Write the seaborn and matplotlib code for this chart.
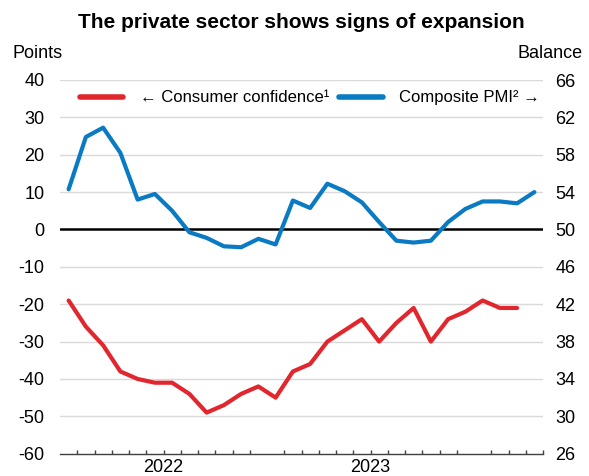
import numpy as np
import pandas as pd
import matplotlib
matplotlib.use("Agg")
import matplotlib.pyplot as plt
import seaborn as sns
from matplotlib.lines import Line2D
from matplotlib.ticker import FixedLocator
import matplotlib.transforms as mtransforms

# ---- data (monthly, Jan 2022 onwards) ----
pmi_months = pd.date_range("2022-01-01", periods=28, freq="MS").strftime("%Y-%m").tolist()
composite_pmi = [54.3, 59.9, 60.9, 58.2, 53.2, 53.8, 52.0, 49.7, 49.1, 48.2, 48.1, 49.0,
                 48.4, 53.1, 52.3, 54.9, 54.1, 52.9, 50.8, 48.8, 48.6, 48.8, 50.8, 52.2,
                 53.0, 53.0, 52.8, 54.0]
cc_months = pmi_months[:27]
consumer_confidence = [-19, -26, -31, -38, -40, -41, -41, -44, -49, -47, -44, -42,
                       -45, -38, -36, -30, -27, -24, -30, -25, -21, -30, -24, -22,
                       -19, -21, -21]
year_labels = ["2022", "2023"]
left_ticks = list(range(-60, 41, 10))
right_ticks = list(range(26, 67, 4))

RED = "#e1262d"
BLUE = "#0a7bc2"

sns.set_theme(style="white")
plt.rcParams["font.family"] = ["Liberation Sans", "DejaVu Sans"]
plt.rcParams["axes.unicode_minus"] = False
plt.rcParams["text.color"] = "black"

W, H = 589, 476
fig = plt.figure(figsize=(W / 100, H / 100), dpi=100)
ax = fig.add_axes([60 / W, 1 - 453.7 / H, 483 / W, (453.7 - 80) / H])
ax2 = ax.twinx()

df_cc = pd.DataFrame({"x": np.arange(len(cc_months)) + 0.5, "v": consumer_confidence})
df_pmi = pd.DataFrame({"x": np.arange(len(pmi_months)) + 0.5, "v": composite_pmi})

sns.lineplot(data=df_cc, x="x", y="v", ax=ax, color=RED, linewidth=3.0, zorder=4)
sns.lineplot(data=df_pmi, x="x", y="v", ax=ax2, color=BLUE, linewidth=3.0, zorder=4)

ax.set_xlim(0, 28)
ax.set_ylim(-60, 40)
ax2.set_ylim(26, 66)
ax.set_yticks(left_ticks)
ax2.set_yticks(right_ticks)
ax.set_xlabel("")
ax.set_ylabel("")
ax2.set_ylabel("")

# grid
ax.set_axisbelow(True)
for v in left_ticks:
    if v not in (-60, 0):
        ax.axhline(v, color="#d9d9d9", linewidth=1.0, zorder=0)
ax.axhline(0, color="black", linewidth=1.8, zorder=2)

for a in (ax, ax2):
    for s in ("top", "left", "right", "bottom"):
        a.spines[s].set_visible(False)
ax.spines["bottom"].set_visible(True)
ax.spines["bottom"].set_color("#404040")
ax.spines["bottom"].set_linewidth(1.0)

# x ticks
ax.xaxis.set_major_locator(FixedLocator([0, 12, 24]))
ax.xaxis.set_minor_locator(FixedLocator([m for m in range(29) if m not in (0, 12, 24)]))
ax.set_xticklabels([])
ax.tick_params(axis="x", which="major", direction="in", length=6.5, width=1.0, color="#404040")
ax.tick_params(axis="x", which="minor", direction="in", length=3, width=1.0, color="#404040", bottom=True)
trans = mtransforms.blended_transform_factory(ax.transData, fig.transFigure)
for i, lab in enumerate(year_labels):
    ax.text(6 + 12 * i, 1 - 467 / H, lab, transform=trans, ha="center", va="center",
            fontsize=13, color="black")

ax.tick_params(axis="y", length=0, pad=11, labelsize=13, labelcolor="black")
ax2.tick_params(axis="y", length=0, pad=9, labelsize=13, labelcolor="black")

fig.text(12 / W, 1 - 54 / H, "Points", ha="left", va="center", fontsize=13, color="black")
fig.text(583 / W, 1 - 54 / H, "Balance", ha="right", va="center", fontsize=13, color="black")
fig.text(301.5 / W, 1 - 22 / H, "The private sector shows signs of expansion",
         ha="center", va="center", fontsize=15, fontweight="bold", color="black")

handles = [Line2D([], [], color=RED, linewidth=4), Line2D([], [], color=BLUE, linewidth=4)]
labels = ["\u2190 Consumer confidence\u00b9", "Composite PMI\u00b2 \u2192"]
leg = ax2.legend(handles, labels, loc="center", bbox_to_anchor=(310 / W, 1 - 98 / H),
                 bbox_transform=fig.transFigure, ncol=2, frameon=False, fontsize=12,
                 handlelength=2.6, handletextpad=1.0, columnspacing=0.6)
for t in leg.get_texts():
    t.set_color("black")

fig.savefig("out.png", dpi=100)
